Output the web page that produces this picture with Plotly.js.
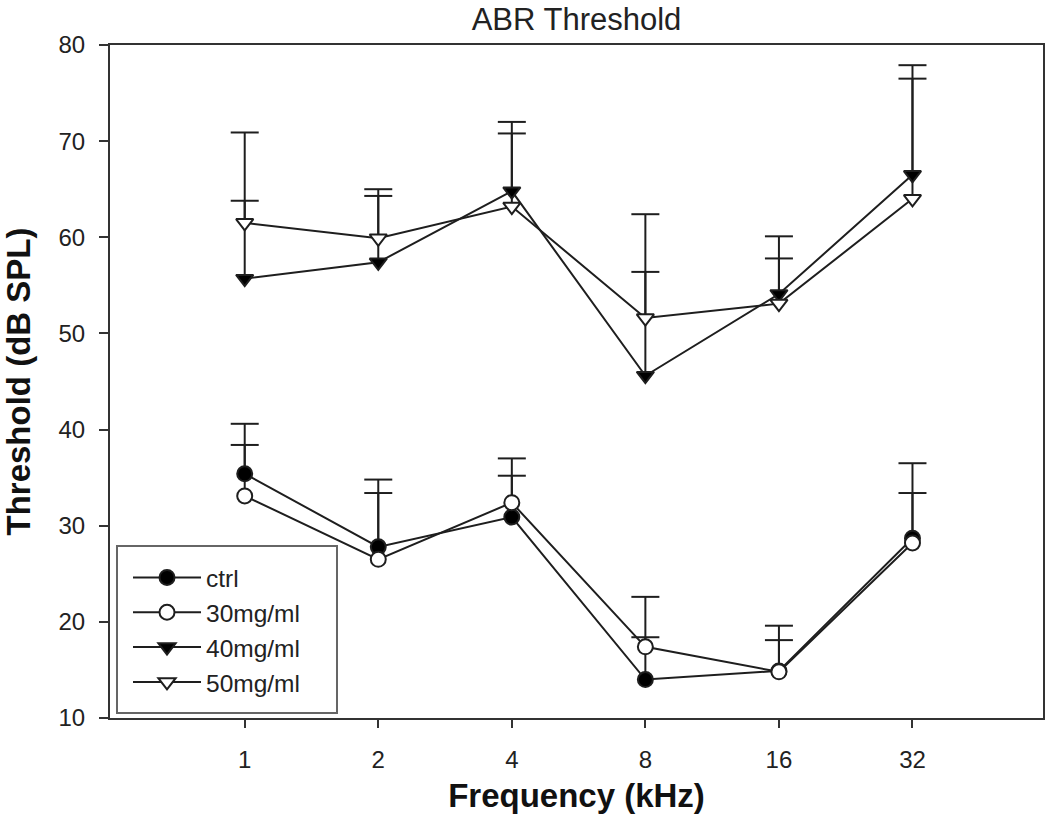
<!DOCTYPE html>
<html>
<head>
<meta charset="utf-8">
<script src="https://cdn.plot.ly/plotly-3.0.1.min.js"></script>
<style>html,body{margin:0;padding:0;background:#fff;}#chart{width:1050px;height:818px;}</style>
</head>
<body>
<div id="chart"></div>
<script>
// Frequencies (kHz)
const freqs = [1, 2, 4, 8, 16, 32];
const tickLabels = ["1", "2", "4", "8", "16", "32"];

// Series names
const seriesNames = ["ctrl", "30mg/ml", "40mg/ml", "50mg/ml"];

// Mean thresholds (dB SPL)
const ctrl   = [35.4, 27.8, 30.9, 14.0, 14.9, 28.7];
const mg30   = [33.1, 26.5, 32.4, 17.4, 14.8, 28.2];
const mg40   = [55.7, 57.4, 64.8, 45.6, 54.1, 66.5];
const mg50   = [61.5, 59.9, 63.2, 51.6, 53.1, 64.0];

// Upper error (dB)
const ctrlErr = [5.2, 7.0, 4.3, 4.4, 4.7, 7.8];
const mg30Err = [5.3, 6.9, 4.6, 5.2, 3.3, 5.2];
const mg40Err = [8.1, 6.9, 7.2, 10.8, 6.0, 11.4];
const mg50Err = [9.4, 5.1, 7.6, 10.8, 4.7, 12.5];

const FONT = "Liberation Sans, Arial, Helvetica, sans-serif";
const INK = "#1e1e1e";

const styles = [
  {symbol: "circle", size: 15, fill: "#000000"},
  {symbol: "circle", size: 15, fill: "#ffffff"},
  {symbol: "triangle-down", size: 15, fill: "#000000"},
  {symbol: "triangle-down", size: 15, fill: "#ffffff"}
];

const means = [ctrl, mg30, mg40, mg50];
const errs = [ctrlErr, mg30Err, mg40Err, mg50Err];

const traces = [];
// error bar stems + caps first (drawn beneath)
means.forEach((m, i) => {
  traces.push({
    x: freqs, y: m, type: "scatter", mode: "none", showlegend: false, hoverinfo: "skip",
    error_y: {type: "data", symmetric: false, array: errs[i], arrayminus: errs[i].map(() => 0),
              width: 0, thickness: 2, color: INK}
  });
  traces.push({
    x: freqs, y: m.map((v, j) => v + errs[i][j]), type: "scatter", mode: "markers",
    showlegend: false, hoverinfo: "skip",
    marker: {symbol: "line-ew", size: 20, line: {width: 2, color: INK}}
  });
});
means.forEach((m, i) => {
  traces.push({
    x: freqs, y: m, type: "scatter", mode: "lines+markers", name: seriesNames[i],
    line: {color: INK, width: 2},
    marker: {symbol: styles[i].symbol, size: styles[i].size, color: styles[i].fill,
             line: {color: INK, width: 2}}
  });
});

const layout = {
  width: 1050, height: 818,
  margin: {l: 110, r: 7, t: 45, b: 100},
  paper_bgcolor: "#ffffff", plot_bgcolor: "#ffffff",
  font: {family: FONT, color: "#222"},
  title: {text: "ABR Threshold", font: {family: FONT, size: 31, color: "#222"},
          x: 0.5, xref: "paper", xanchor: "center", y: 0.977, yref: "container", yanchor: "middle"},
  xaxis: {
    type: "log", range: [Math.log10(0.497), Math.log10(63)],
    tickmode: "array", tickvals: freqs, ticktext: tickLabels,
    ticks: "outside", ticklen: 8, tickwidth: 2, tickcolor: "#333",
    showline: true, linecolor: "#333", linewidth: 2, mirror: true,
    showgrid: false, zeroline: false,
    tickfont: {family: FONT, size: 24, color: "#222"},
    ticklabelstandoff: 11,
    title: {text: "<b>Frequency (kHz)</b>", font: {family: FONT, size: 33, color: "#111"}, standoff: 12}
  },
  yaxis: {
    range: [10, 80], tickmode: "array", tickvals: [10, 20, 30, 40, 50, 60, 70, 80],
    ticks: "outside", ticklen: 9, tickwidth: 2, tickcolor: "#333",
    showline: true, linecolor: "#333", linewidth: 2, mirror: true,
    showgrid: false, zeroline: false,
    tickfont: {family: FONT, size: 24, color: "#222"},
    ticklabelstandoff: 9,
    title: {text: "<b>Threshold (dB SPL)</b>", font: {family: FONT, size: 33, color: "#111"}, standoff: 18}
  },
  legend: {
    x: 0.0193, y: 0.2422, xanchor: "left", yanchor: "top",
    bgcolor: "rgba(0,0,0,0)", borderwidth: 0,
    font: {family: FONT, size: 24.5, color: "#222"},
    itemwidth: 68, tracegroupgap: 0
  },
  shapes: [{
    type: "rect", xref: "paper", yref: "paper",
    x0: 0.0075, x1: 0.2433, y0: 0.0074, y1: 0.2556,
    line: {color: "#666", width: 2}, fillcolor: "rgba(0,0,0,0)", layer: "above"
  }],
  showlegend: true
};

Plotly.newPlot("chart", traces, layout, {displayModeBar: false, staticPlot: true});
</script>
</body>
</html>
